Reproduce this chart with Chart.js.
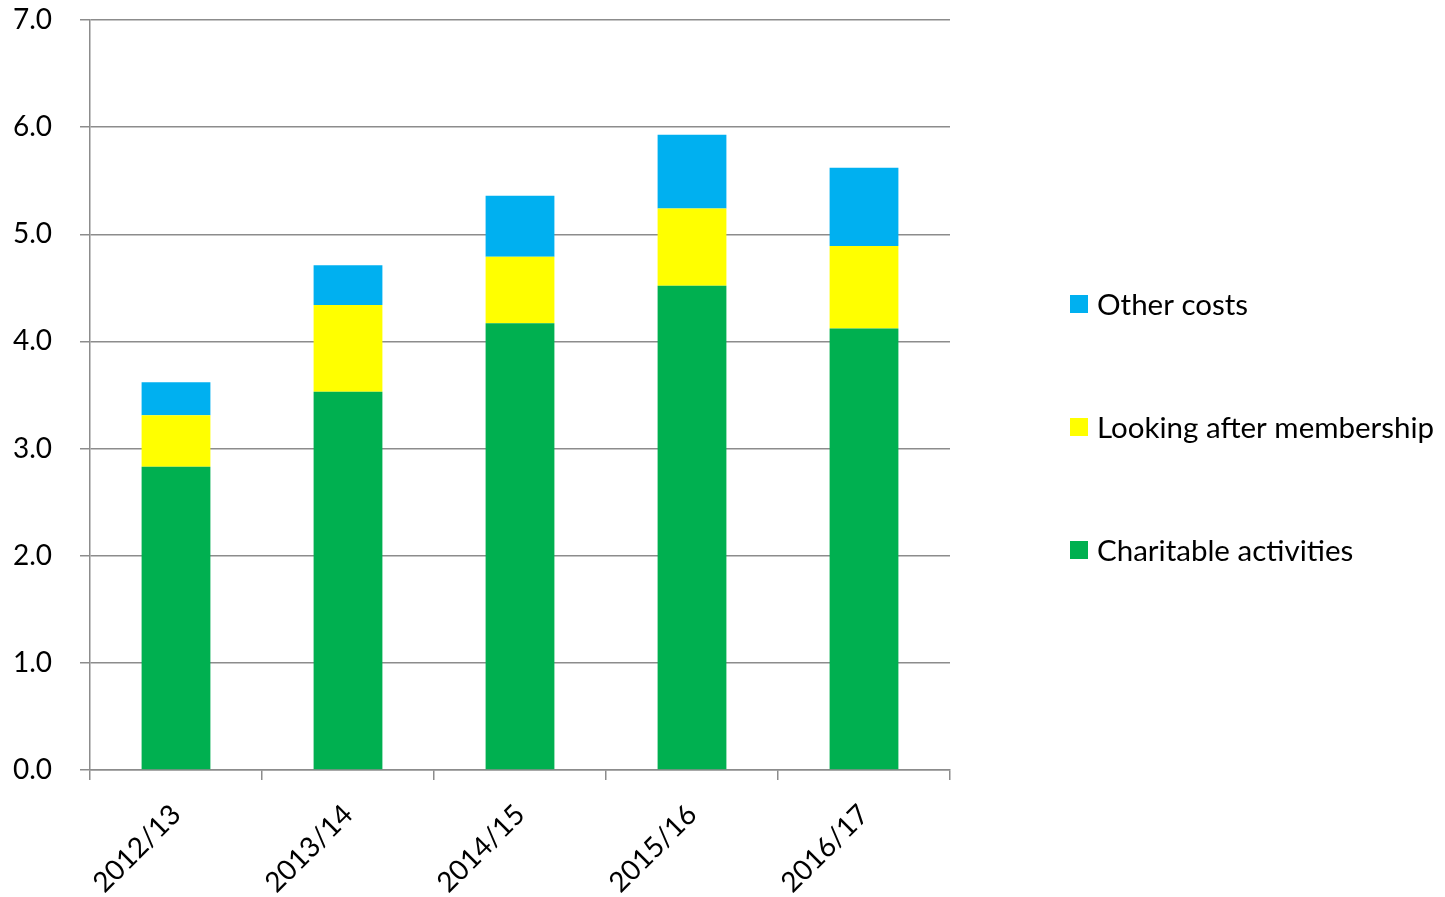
<!DOCTYPE html>
<html>
<head>
<meta charset="utf-8">
<script src="https://cdn.jsdelivr.net/npm/chart.js@4.4.0/dist/chart.umd.min.js"></script>
<style>
  html, body { margin: 0; padding: 0; background: #ffffff; }
  #wrap { width: 1445px; height: 897px; position: relative; }
</style>
</head>
<body>
<div id="wrap"><canvas id="c" width="1445" height="897"></canvas></div>
<script>
const categories = ["2012/13", "2013/14", "2014/15", "2015/16", "2016/17"];
const charitableActivities = [2.83, 3.53, 4.17, 4.52, 4.12];
const lookingAfterMembership = [0.48, 0.81, 0.62, 0.72, 0.77];
const otherCosts = [0.31, 0.37, 0.57, 0.69, 0.73];
const yTicks = [0, 1, 2, 3, 4, 5, 6, 7];

const FONT = "Lato, 'Open Sans', sans-serif";
const FONT_SIZE = 28;
const LEGEND_FONT_SIZE = 29.5;
const gridGray = "#8c8c8c";

// Legend drawn beside the plot, using the chart's own legend items (reversed like the original)
const sideLegend = {
  id: "sideLegend",
  afterDraw(chart) {
    const items = Chart.defaults.plugins.legend.labels.generateLabels(chart).slice().reverse();
    const ctx = chart.ctx;
    const area = chart.chartArea;
    const boxX = area.right + 120;
    const firstCenter = area.top + 284;
    const step = 123;
    const box = 18;
    ctx.save();
    ctx.font = LEGEND_FONT_SIZE + "px " + FONT;
    ctx.textBaseline = "middle";
    ctx.textAlign = "left";
    items.forEach((it, i) => {
      const cy = firstCenter + i * step;
      ctx.fillStyle = it.fillStyle;
      ctx.fillRect(boxX, cy - box / 2, box, box);
      ctx.fillStyle = "#000000";
      ctx.fillText(it.text, boxX + 27, cy + 1);
    });
    ctx.restore();
  }
};

new Chart(document.getElementById("c"), {
  type: "bar",
  data: {
    labels: categories,
    datasets: [
      { label: "Charitable activities", data: charitableActivities, backgroundColor: "#00B050" },
      { label: "Looking after membership", data: lookingAfterMembership, backgroundColor: "#FFFF00" },
      { label: "Other costs", data: otherCosts, backgroundColor: "#00B0F0" }
    ]
  },
  plugins: [sideLegend],
  options: {
    responsive: false,
    animation: false,
    devicePixelRatio: 1,
    layout: { padding: { left: 12, top: 0, right: 495, bottom: 0 } },
    datasets: { bar: { barPercentage: 0.4, categoryPercentage: 1.0 } },
    plugins: {
      tooltip: { enabled: false },
      legend: { display: false }
    },
    scales: {
      x: {
        stacked: true,
        border: { color: gridGray, width: 1.5 },
        grid: { drawOnChartArea: false, drawTicks: true, tickLength: 10, color: gridGray, lineWidth: 1.5, offset: true },
        ticks: { color: "#000000", font: { family: FONT, size: FONT_SIZE }, minRotation: 45, maxRotation: 45, padding: 18 },
        afterFit: (axis) => { axis.paddingLeft = 0; axis.paddingRight = 0; axis.height = 127; }
      },
      y: {
        stacked: true,
        min: 0,
        max: 7,
        afterBuildTicks: (axis) => { axis.ticks = yTicks.map(v => ({ value: v })); },
        border: { color: gridGray, width: 1.5 },
        grid: { color: gridGray, lineWidth: 1.5, tickLength: 10 },
        ticks: { color: "#000000", font: { family: FONT, size: FONT_SIZE }, padding: 28, callback: (v) => Number(v).toFixed(1) },
        afterFit: (axis) => { axis.width = 78; axis.paddingTop = 20; axis.paddingBottom = 0; }
      }
    }
  }
});
</script>
</body>
</html>
